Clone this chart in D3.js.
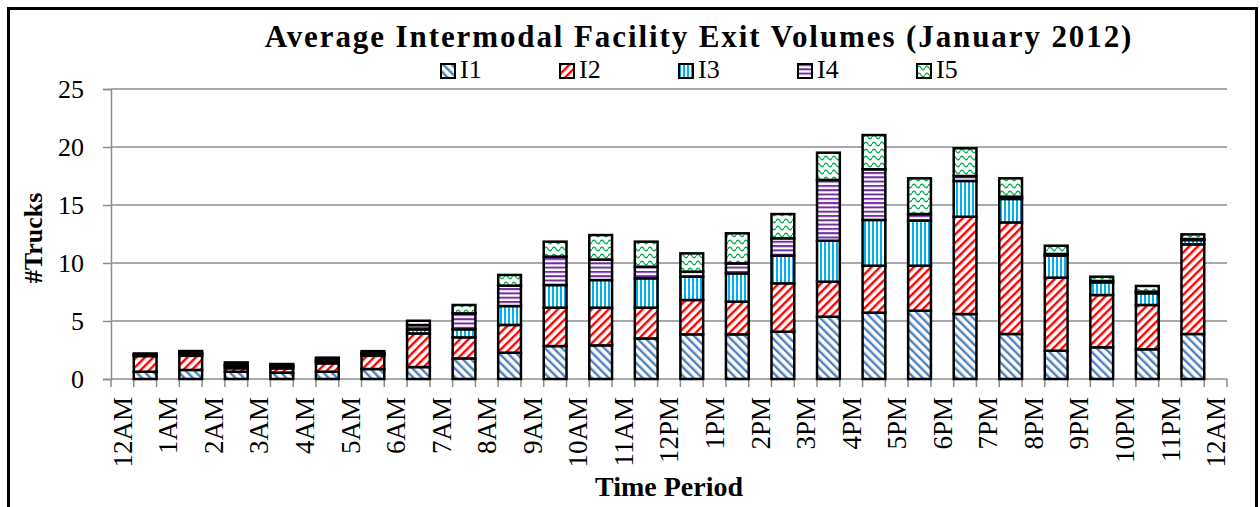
<!DOCTYPE html>
<html>
<head>
<meta charset="utf-8">
<script src="https://cdn.jsdelivr.net/npm/d3@7"></script>
<style>
  body { margin: 0; background: #fff; }
  text { font-family: "Liberation Serif", "Times New Roman", serif; fill: #000; }
</style>
</head>
<body>
<div id="chart"></div>
<script>
const width = 1260;
const height = 507;
const margin = { top: 89, bottom: 128, left: 111, right: 33 };

// tick labels sit between bars
const timeLabels = ["12AM","1AM","2AM","3AM","4AM","5AM","6AM","7AM","8AM","9AM","10AM","11AM",
  "12PM","1PM","2PM","3PM","4PM","5PM","6PM","7PM","8PM","9PM","10PM","11PM","12AM"];
const seriesNames = ["I1","I2","I3","I4","I5"];
const yTicks = [0, 5, 10, 15, 20, 25];

// average trucks per hour, one value per bar
const i1 = [0.63,0.78,0.63,0.55,0.63,0.86,1.03,1.78,2.27,2.84,2.9,3.5,3.85,3.85,4.08,5.37,5.72,5.89,5.6,3.88,2.44,2.73,2.56,3.88];
const i2 = [1.35,1.22,0.3,0.37,0.72,1.14,2.9,1.81,2.39,3.31,3.25,2.65,2.96,2.82,4.17,3.02,4.05,3.88,8.39,9.62,6.3,4.51,3.82,7.73];
const i3 = [0.07,0.15,0.2,0.15,0.2,0.15,0.35,0.69,1.63,1.95,2.38,2.53,2.01,2.43,2.38,3.53,3.94,3.88,3.08,2.02,1.89,1.09,1.01,0.37];
const i4 = [0.05,0.1,0.1,0.1,0.15,0.1,0.37,1.38,1.76,2.45,1.77,1.0,0.43,0.87,1.5,5.24,4.37,0.57,0.43,0.2,0.15,0.12,0.14,0.09];
const i5 = [0.1,0.16,0.2,0.12,0.14,0.15,0.37,0.72,0.92,1.29,2.11,2.16,1.58,2.59,2.09,2.35,2.95,3.08,2.39,1.58,0.71,0.37,0.49,0.4];

const rows = d3.range(24).map(i => ({ I1: i1[i], I2: i2[i], I3: i3[i], I4: i4[i], I5: i5[i], idx: i }));
const stacked = d3.stack().keys(seriesNames)(rows);

let svg = d3.select("#chart").append("svg")
  .attr("width", width)
  .attr("height", height);

svg.append("rect").attr("width", width).attr("height", height).attr("fill", "#fff");

// fill patterns, one per facility
const defs = svg.append("defs");

function stripes(id, color, angle, period, thick) {
  const p = defs.append("pattern")
    .attr("id", id)
    .attr("patternUnits", "userSpaceOnUse")
    .attr("width", period).attr("height", period)
    .attr("patternTransform", "rotate(" + angle + ")");
  p.append("rect").attr("width", period).attr("height", period).attr("fill", "#fff");
  p.append("rect").attr("width", thick).attr("height", period).attr("fill", color);
}
stripes("p-I1", "#4f81bd", -45, 6, 2.4);
stripes("p-I2", "#ff0000", 45, 6, 2.4);
stripes("p-I3", "#00b0f0", 0, 4, 2);
stripes("p-I4", "#7030a0", 90, 4.3, 2);

const wave = defs.append("pattern")
  .attr("id", "p-I5")
  .attr("patternUnits", "userSpaceOnUse")
  .attr("width", 8).attr("height", 7);
wave.append("rect").attr("width", 8).attr("height", 7).attr("fill", "#fff");
wave.append("path")
  .attr("d", "M0,4 Q2,0.5 4,4 T8,4")
  .attr("fill", "none")
  .attr("stroke", "#00b050")
  .attr("stroke-width", 1.3);

const x = d3.scaleBand()
  .domain(d3.range(24))
  .range([margin.left, width - margin.right])
  .paddingInner(0.5)
  .paddingOuter(0.5);

const gap = x.step() - x.bandwidth();
const xLabel = d3.scaleLinear()
  .domain([0, 24])
  .range([x(0) - gap / 2, x(23) + x.bandwidth() + gap / 2]);
const xTick = d3.scaleLinear()
  .domain([0, 49])
  .range([margin.left, width - margin.right]);

const y = d3.scaleLinear()
  .domain([0, 25])
  .range([height - margin.bottom, margin.top]);

// gridlines
svg.append("g")
  .selectAll("line")
  .data(yTicks.filter(d => d > 0))
  .enter().append("line")
  .attr("x1", margin.left).attr("x2", width - margin.right)
  .attr("y1", d => y(d)).attr("y2", d => y(d))
  .attr("stroke", "#8c8c8c").attr("stroke-width", 1.5);

// y axis
const yAxis = svg.append("g")
  .attr("transform", "translate(" + margin.left + ",0)")
  .call(d3.axisLeft(y).tickValues(yTicks).tickSize(8).tickPadding(19));
yAxis.select(".domain").attr("stroke", "#8c8c8c").attr("stroke-width", 1.5);
yAxis.selectAll(".tick line").attr("stroke", "#8c8c8c").attr("stroke-width", 1.5);
yAxis.selectAll("text")
  .attr("font-size", 26)
  .attr("font-family", "Liberation Serif, Times New Roman, serif")
  .attr("fill", "#000");

// x axis line and ticks
svg.append("line")
  .attr("x1", margin.left).attr("x2", width - margin.right)
  .attr("y1", y(0)).attr("y2", y(0))
  .attr("stroke", "#8c8c8c").attr("stroke-width", 1.5);
svg.append("g")
  .selectAll("line")
  .data(d3.range(50))
  .enter().append("line")
  .attr("x1", d => xTick(d)).attr("x2", d => xTick(d))
  .attr("y1", y(0)).attr("y2", y(0) + 8)
  .attr("stroke", "#8c8c8c").attr("stroke-width", 1.5);

svg.append("g")
  .selectAll("text")
  .data(timeLabels)
  .enter().append("text")
  .attr("transform", (d, i) => "translate(" + xLabel(i) + "," + (y(0) + 18) + ") rotate(-90)")
  .attr("text-anchor", "end")
  .attr("dy", "0.35em")
  .attr("font-size", 27)
  .text(d => d);

// bars
svg.append("g")
  .selectAll("g")
  .data(stacked)
  .enter().append("g")
  .attr("fill", d => "url(#p-" + d.key + ")")
  .selectAll("rect")
  .data(d => d)
  .enter().append("rect")
  .attr("x", d => x(d.data.idx))
  .attr("width", x.bandwidth())
  .attr("y", d => y(d[1]))
  .attr("height", d => y(d[0]) - y(d[1]))
  .attr("stroke", "#000")
  .attr("stroke-width", 2.5);

// title
svg.append("text")
  .attr("x", 699).attr("y", 47)
  .attr("text-anchor", "middle")
  .attr("font-size", 31)
  .attr("letter-spacing", 1.9)
  .attr("font-weight", "bold")
  .text("Average Intermodal Facility Exit Volumes (January 2012)");

// legend
const legend = svg.append("g")
  .selectAll("g")
  .data(seriesNames)
  .enter().append("g")
  .attr("transform", (d, i) => "translate(" + (441 + i * 119) + ",64)");
legend.append("rect")
  .attr("width", 14).attr("height", 14)
  .attr("fill", d => "url(#p-" + d + ")")
  .attr("stroke", "#000").attr("stroke-width", 2);
legend.append("text")
  .attr("x", 19).attr("y", 14)
  .attr("font-size", 26)
  .text(d => d);

// axis titles
svg.append("text")
  .attr("transform", "translate(33,238) rotate(-90)")
  .attr("text-anchor", "middle")
  .attr("dy", "0.35em")
  .attr("font-size", 26)
  .attr("font-weight", "bold")
  .text("#Trucks");

svg.append("text")
  .attr("x", (margin.left + width - margin.right) / 2).attr("y", 496)
  .attr("text-anchor", "middle")
  .attr("font-size", 28)
  .attr("font-weight", "bold")
  .text("Time Period");

// outer frame
svg.append("rect")
  .attr("x", 8.5).attr("y", 8.5)
  .attr("width", 1248).attr("height", 520)
  .attr("fill", "none")
  .attr("stroke", "#000").attr("stroke-width", 3);
</script>
</body>
</html>
